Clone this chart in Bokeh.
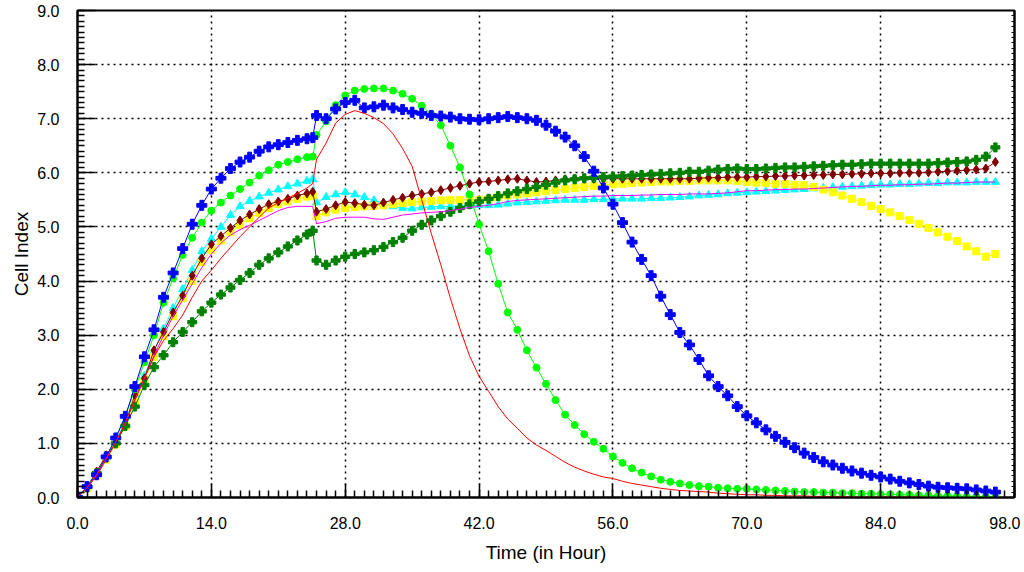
from bokeh.plotting import figure
from bokeh.models import FixedTicker, LinearAxis, PrintfTickFormatter, ColumnDataSource
from bokeh.embed import file_html
from bokeh.resources import INLINE

# ---------------- data ----------------
hours = [float(h) for h in range(25)] + [24.6] + [float(h) for h in range(25, 97)]

blue_pre = [0.0, 0.2, 0.42, 0.75, 1.1, 1.5, 2.05, 2.6, 3.1, 3.7, 4.15, 4.6, 5.05, 5.4, 5.7, 5.9,
            6.08, 6.2, 6.29, 6.4, 6.48, 6.52, 6.56, 6.6, 6.63, 6.65]
blue_post = [7.06, 7.0, 7.18, 7.3, 7.34, 7.2, 7.22, 7.25, 7.2, 7.17,
             7.12, 7.1, 7.06, 7.05, 7.03, 7.0, 6.99, 6.98, 7.0, 7.02,
             7.04, 7.02, 7.0, 6.97, 6.88, 6.77, 6.66, 6.5, 6.3, 6.03,
             5.72, 5.42, 5.08, 4.72, 4.4, 4.1, 3.72, 3.38, 3.05, 2.82,
             2.55, 2.25, 2.05, 1.88, 1.68, 1.51, 1.38, 1.25, 1.13, 1.02,
             0.92, 0.82, 0.74, 0.66, 0.6, 0.54, 0.49, 0.45, 0.41, 0.38,
             0.34, 0.3, 0.27, 0.24, 0.21, 0.19, 0.18, 0.17, 0.16, 0.14,
             0.12, 0.1]

green_pre = [0.0, 0.2, 0.43, 0.75, 1.1, 1.5, 2.0, 2.5, 3.0, 3.6, 4.05, 4.48, 4.8, 5.08, 5.3, 5.45,
             5.58, 5.7, 5.82, 5.95, 6.05, 6.15, 6.2, 6.25, 6.29, 6.3]
green_post = [6.7, 6.95, 7.25, 7.43, 7.52, 7.55, 7.56, 7.56, 7.52, 7.46,
              7.37, 7.24, 7.08, 6.88, 6.5, 6.1, 5.6, 5.05, 4.55, 3.95,
              3.42, 3.1, 2.72, 2.4, 2.1, 1.8, 1.53, 1.34, 1.17, 1.03,
              0.9, 0.76, 0.64, 0.54, 0.46, 0.39, 0.33, 0.29, 0.26, 0.23,
              0.21, 0.2, 0.18, 0.17, 0.16, 0.16, 0.15, 0.14, 0.13, 0.12,
              0.11, 0.1, 0.1, 0.09, 0.09, 0.08, 0.08, 0.07, 0.07, 0.06,
              0.06, 0.05, 0.05, 0.04, 0.04, 0.03, 0.03, 0.03, 0.02, 0.02,
              0.02, 0.01]

red_pre = [0.0, 0.18, 0.4, 0.7, 1.02, 1.38, 1.8, 2.22, 2.6, 2.9, 3.12, 3.37, 3.7, 4.0, 4.2, 4.42,
           4.62, 4.82, 5.0, 5.18, 5.35, 5.45, 5.53, 5.62, 5.72, 5.8]
red_post = [6.25, 6.55, 6.92, 7.08, 7.15, 7.1, 7.02, 6.91, 6.72, 6.45,
            6.12, 5.5, 4.88, 4.3, 3.68, 3.12, 2.62, 2.24, 1.96, 1.68,
            1.45, 1.28, 1.1, 0.97, 0.87, 0.76, 0.65, 0.56, 0.49, 0.43,
            0.38, 0.35, 0.3, 0.26, 0.23, 0.2, 0.17, 0.15, 0.13, 0.12,
            0.11, 0.1, 0.08, 0.07, 0.06, 0.05, 0.05, 0.04, 0.04, 0.03,
            0.03, 0.03, 0.02, 0.02, 0.02, 0.02, 0.01, 0.01, 0.01, 0.01,
            0.01, 0.01, 0.01, 0.01, 0.0, 0.0, 0.0, 0.0, 0.0, 0.0,
            0.0, 0.0]

maroon_pre = [0.0, 0.2, 0.48, 0.78, 1.0, 1.35, 1.9, 2.2, 2.72, 3.06, 3.42, 3.73, 4.1, 4.42, 4.68, 4.83,
              4.98, 5.12, 5.23, 5.33, 5.42, 5.47, 5.52, 5.58, 5.62, 5.65]
maroon_post = [5.28, 5.33, 5.4, 5.46, 5.44, 5.41, 5.4, 5.45, 5.5, 5.54,
               5.58, 5.61, 5.64, 5.68, 5.72, 5.76, 5.8, 5.83, 5.84, 5.86,
               5.88, 5.89, 5.86, 5.83, 5.84, 5.86, 5.88, 5.89, 5.89, 5.89,
               5.89, 5.89, 5.89, 5.89, 5.89, 5.89, 5.89, 5.89, 5.89, 5.89,
               5.9, 5.91, 5.91, 5.92, 5.92, 5.92, 5.93, 5.93, 5.94, 5.94,
               5.95, 5.95, 5.96, 5.96, 5.97, 5.97, 5.98, 5.98, 5.99, 5.99,
               5.99, 6.0, 6.0, 6.0, 6.01, 6.02, 6.03, 6.04, 6.05, 6.06,
               6.08, 6.2]

yellow_pre = [0.0, 0.17, 0.4, 0.7, 0.98, 1.32, 1.75, 2.15, 2.6, 2.98, 3.35, 3.68, 4.0, 4.35, 4.58, 4.75,
              4.9, 5.04, 5.16, 5.26, 5.35, 5.42, 5.47, 5.52, 5.56, 5.58]
yellow_post = [5.2, 5.27, 5.32, 5.35, 5.37, 5.38, 5.39, 5.4, 5.42, 5.44,
               5.46, 5.47, 5.48, 5.49, 5.5, 5.5, 5.5, 5.5, 5.52, 5.55,
               5.58, 5.6, 5.62, 5.64, 5.66, 5.68, 5.7, 5.72, 5.74, 5.76,
               5.78, 5.79, 5.8, 5.81, 5.82, 5.83, 5.84, 5.84, 5.85, 5.85,
               5.86, 5.86, 5.86, 5.86, 5.85, 5.83, 5.82, 5.81, 5.8, 5.79,
               5.78, 5.77, 5.74, 5.69, 5.64, 5.58, 5.52, 5.46, 5.39, 5.33,
               5.27, 5.2, 5.13, 5.06, 4.98, 4.9, 4.82, 4.74, 4.64, 4.55,
               4.45, 4.5]

cyan_pre = [0.0, 0.2, 0.45, 0.75, 1.05, 1.4, 1.9, 2.25, 2.7, 3.12, 3.5, 3.85, 4.2, 4.55, 4.78, 5.0,
            5.22, 5.38, 5.48, 5.56, 5.63, 5.69, 5.75, 5.8, 5.85, 5.88]
cyan_post = [5.45, 5.55, 5.6, 5.64, 5.6, 5.55, 5.49, 5.44, 5.38, 5.35,
             5.34, 5.36, 5.37, 5.38, 5.38, 5.39, 5.39, 5.4, 5.4, 5.41,
             5.43, 5.45, 5.46, 5.47, 5.48, 5.49, 5.5, 5.5, 5.5, 5.51,
             5.51, 5.52, 5.52, 5.52, 5.52, 5.53, 5.53, 5.54, 5.55, 5.56,
             5.58, 5.59, 5.6, 5.62, 5.63, 5.64, 5.65, 5.66, 5.67, 5.68,
             5.69, 5.7, 5.71, 5.72, 5.73, 5.74, 5.75, 5.76, 5.77, 5.78,
             5.78, 5.79, 5.79, 5.8, 5.81, 5.81, 5.82, 5.82, 5.82, 5.83,
             5.83, 5.83]

magenta_pre = [0.0, 0.18, 0.42, 0.72, 1.02, 1.38, 1.8, 2.2, 2.62, 3.0, 3.35, 3.65, 3.95, 4.25, 4.5, 4.7,
               4.85, 4.95, 5.03, 5.12, 5.21, 5.3, 5.36, 5.38, 5.38, 5.38]
magenta_post = [5.06, 5.1, 5.16, 5.18, 5.18, 5.18, 5.15, 5.14, 5.18, 5.22,
                5.24, 5.26, 5.27, 5.28, 5.3, 5.33, 5.36, 5.38, 5.4, 5.43,
                5.47, 5.49, 5.5, 5.51, 5.52, 5.53, 5.54, 5.55, 5.56, 5.57,
                5.57, 5.58, 5.58, 5.58, 5.59, 5.59, 5.6, 5.6, 5.6, 5.61,
                5.61, 5.61, 5.62, 5.63, 5.65, 5.67, 5.67, 5.68, 5.69, 5.69,
                5.7, 5.7, 5.71, 5.72, 5.73, 5.74, 5.75, 5.75, 5.76, 5.77,
                5.77, 5.78, 5.78, 5.79, 5.79, 5.8, 5.81, 5.81, 5.82, 5.83,
                5.83, 5.83]

dkgreen_pre = [0.0, 0.2, 0.45, 0.75, 1.0, 1.32, 1.68, 2.08, 2.41, 2.63, 2.87, 3.06, 3.24, 3.44, 3.6, 3.75,
               3.88, 4.02, 4.15, 4.3, 4.42, 4.53, 4.64, 4.75, 4.86, 4.93]
dkgreen_post = [4.38, 4.3, 4.38, 4.45, 4.5, 4.53, 4.57, 4.63, 4.72, 4.8,
                4.93, 5.04, 5.12, 5.2, 5.28, 5.35, 5.42, 5.47, 5.52, 5.57,
                5.62, 5.66, 5.7, 5.74, 5.78, 5.82, 5.86, 5.88, 5.9, 5.91,
                5.92, 5.93, 5.94, 5.95, 5.96, 5.97, 5.98, 5.99, 6.0, 6.02,
                6.02, 6.04, 6.06, 6.07, 6.08, 6.07, 6.07, 6.08, 6.09, 6.1,
                6.1, 6.11, 6.12, 6.13, 6.14, 6.15, 6.15, 6.16, 6.17, 6.17,
                6.17, 6.17, 6.17, 6.17, 6.17, 6.18, 6.19, 6.2, 6.21, 6.24,
                6.3, 6.47]

x_major_ticks = [0, 14, 28, 42, 56, 70, 84, 98]
x_minor_ticks = list(range(0, 99))
y_major_ticks = [0, 1, 2, 3, 4, 5, 6, 7, 8, 9]
y_minor_ticks = [i / 10 for i in range(0, 91)]

# name, values, colour, marker (None = plain line), marker size
series = [
    ("cyan", cyan_pre + cyan_post, "#00FFFF", "triangle", 8),
    ("yellow", yellow_pre + yellow_post, "#FFFF00", "square", 7),
    ("maroon", maroon_pre + maroon_post, "#800000", "diamond", 9),
    ("dkgreen", dkgreen_pre + dkgreen_post, "#008000", "plus", 9),
    ("green", green_pre + green_post, "#00FF00", "circle", 7),
    ("blue", blue_pre + blue_post, "#0000FF", "plus", 10),
    ("magenta", magenta_pre + magenta_post, "#FF00FF", None, 0),
    ("red", red_pre + red_post, "#FF0000", None, 0),
]

FONT = "Liberation Sans"

p = figure(width=1020, height=570, x_range=(0, 98), y_range=(0, 9),
           output_backend="svg", toolbar_location=None,
           min_border_left=77, min_border_right=6, min_border_top=10, min_border_bottom=73,
           background_fill_color="white", border_fill_color="white",
           outline_line_color="black", outline_line_width=2)

for name, vals, col, marker, size in series:
    src = ColumnDataSource(dict(x=hours[:len(vals)], y=vals))
    p.line("x", "y", source=src, line_color=col, line_width=1)
    if marker:
        p.scatter("x", "y", source=src, marker=marker, size=size,
                  fill_color=col, line_color=col, line_width=1)

# x axis
xa = p.xaxis[0]
xa.ticker = FixedTicker(ticks=x_major_ticks, minor_ticks=x_minor_ticks)
xa.formatter = PrintfTickFormatter(format="%.1f")
xa.axis_label = "Time (in Hour)"
# y axis
ya = p.yaxis[0]
ya.ticker = FixedTicker(ticks=y_major_ticks, minor_ticks=y_minor_ticks)
ya.formatter = PrintfTickFormatter(format="%.1f")
ya.axis_label = "Cell Index"

for ax in (xa, ya):
    ax.axis_line_color = "black"
    ax.axis_line_width = 2
    ax.major_tick_out = 0
    ax.minor_tick_out = 0
    ax.minor_tick_in = 7
    ax.major_tick_line_color = "black"
    ax.minor_tick_line_color = "black"
    ax.major_tick_line_width = 1.5
    ax.minor_tick_line_width = 1.5
    ax.major_label_text_font = FONT
    ax.major_label_text_font_size = "16px"
    ax.major_label_text_color = "black"
    ax.axis_label_text_font = FONT
    ax.axis_label_text_font_size = "19px"
    ax.axis_label_text_font_style = "normal"
    ax.axis_label_text_color = "black"

xa.major_tick_in = 14
ya.major_tick_in = 18
xa.major_label_standoff = 19
ya.major_label_standoff = 18
xa.axis_label_standoff = 10
ya.axis_label_standoff = 2

# small inward ticks on the right edge (minor ticks only, so no labels)
ra = LinearAxis(ticker=FixedTicker(ticks=[], minor_ticks=y_minor_ticks),
                major_label_standoff=0,
                major_tick_in=0, major_tick_out=0, minor_tick_in=3, minor_tick_out=0,
                axis_line_width=2, axis_line_color="black",
                minor_tick_line_color="black")
p.add_layout(ra, "right")

# grid
p.xgrid.ticker = FixedTicker(ticks=x_major_ticks)
p.ygrid.ticker = FixedTicker(ticks=y_major_ticks)
for g in (p.xgrid[0], p.ygrid[0]):
    g.grid_line_color = "black"
    g.grid_line_width = 1.5
    g.grid_line_dash = "2 4"

open("out.html", "w").write(file_html(p, INLINE))
